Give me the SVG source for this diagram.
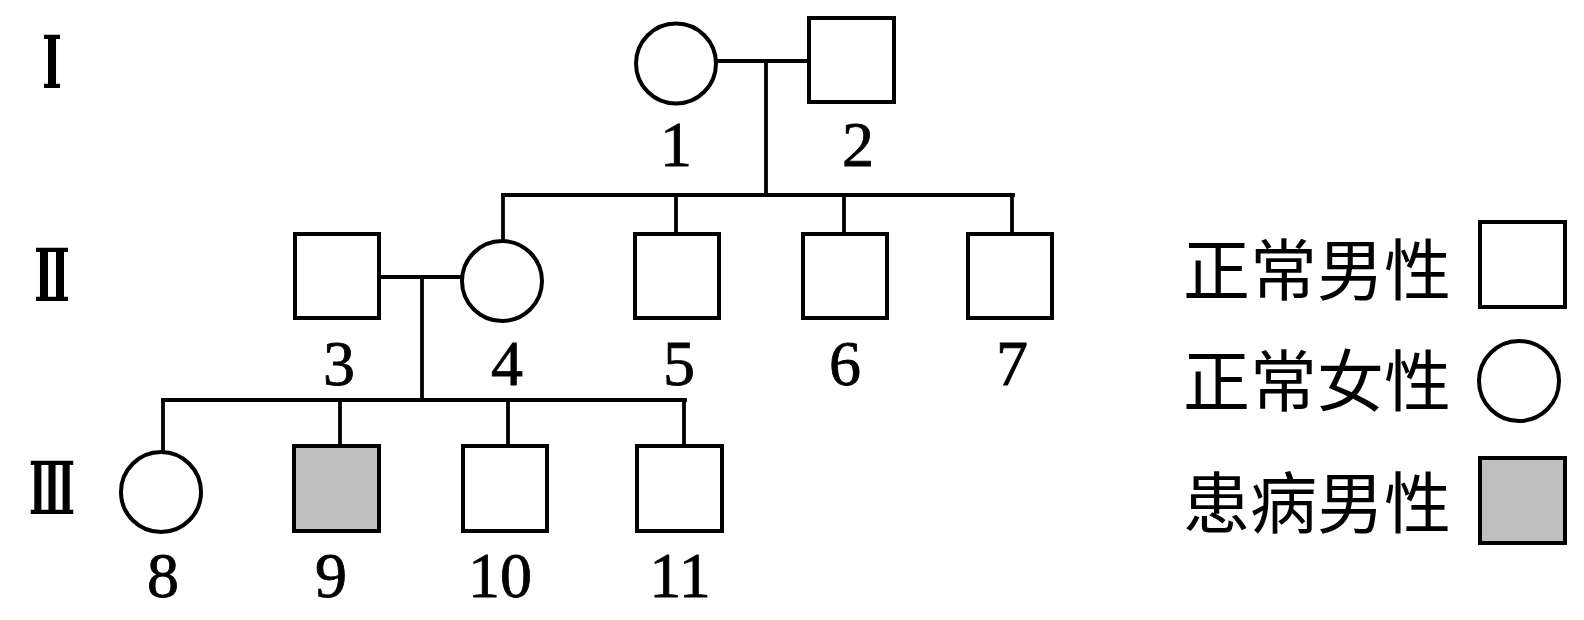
<svg xmlns="http://www.w3.org/2000/svg" width="1584" height="620" viewBox="0 0 1584 620">
<style>
.shape{fill:#fff;stroke:#000;stroke-width:4}
.ill{fill:#bfbfbf;stroke:#000;stroke-width:4}
.ln{stroke:#000;stroke-width:3.8;fill:none;stroke-linecap:square}
.num{font-family:"Liberation Serif","Times New Roman",serif;font-size:64px;fill:#000;stroke:#000;stroke-width:0.8;text-anchor:middle}
.gen{font-family:"DejaVu Serif","Liberation Serif",serif;font-size:72px;font-weight:bold;fill:#000}
.leg{font-family:"Noto Sans CJK SC","Noto Sans CJK TC",sans-serif;font-size:67px;fill:#000}
</style>
<rect width="1584" height="620" fill="#fff"/>
<g id="generations">
<text class="gen" x="42" y="88" textLength="20" lengthAdjust="spacingAndGlyphs">Ⅰ</text>
<text class="gen" x="34" y="301" textLength="36" lengthAdjust="spacingAndGlyphs">Ⅱ</text>
<text class="gen" x="29" y="514" textLength="46" lengthAdjust="spacingAndGlyphs">Ⅲ</text>
</g>
<g id="connectors">
<line class="ln" x1="716" y1="61" x2="809" y2="61"/>
<line class="ln" x1="766" y1="61" x2="766" y2="195"/>
<line class="ln" x1="503" y1="195" x2="1013" y2="195"/>
<line class="ln" x1="503" y1="195" x2="503" y2="241"/>
<line class="ln" x1="676" y1="195" x2="676" y2="234"/>
<line class="ln" x1="844" y1="195" x2="844" y2="234"/>
<line class="ln" x1="1012" y1="195" x2="1012" y2="234"/>
<line class="ln" x1="379" y1="277" x2="462" y2="277"/>
<line class="ln" x1="422" y1="277" x2="422" y2="400"/>
<line class="ln" x1="163" y1="400" x2="685" y2="400"/>
<line class="ln" x1="163" y1="400" x2="163" y2="452"/>
<line class="ln" x1="340" y1="400" x2="340" y2="446"/>
<line class="ln" x1="508" y1="400" x2="508" y2="446"/>
<line class="ln" x1="684" y1="400" x2="684" y2="446"/>
</g>
<g id="n1"><circle class="shape" cx="676" cy="63.5" r="40"/><text class="num" x="676" y="166">1</text></g>
<g id="n2"><rect class="shape" x="809" y="18" width="85" height="84"/><text class="num" x="858" y="166">2</text></g>
<g id="n3"><rect class="shape" x="295" y="234" width="84" height="84"/><text class="num" x="339" y="385">3</text></g>
<g id="n4"><circle class="shape" cx="502" cy="281" r="40"/><text class="num" x="507" y="385">4</text></g>
<g id="n5"><rect class="shape" x="635" y="234" width="84" height="84"/><text class="num" x="679" y="385">5</text></g>
<g id="n6"><rect class="shape" x="803" y="234" width="84" height="84"/><text class="num" x="845" y="385">6</text></g>
<g id="n7"><rect class="shape" x="968" y="234" width="84" height="84"/><text class="num" x="1012" y="385">7</text></g>
<g id="n8"><circle class="shape" cx="161" cy="492" r="40"/><text class="num" x="163" y="597">8</text></g>
<g id="n9"><rect class="ill" x="294" y="446" width="85" height="85"/><text class="num" x="331" y="597">9</text></g>
<g id="n10"><rect class="shape" x="463" y="446" width="84" height="85"/><text class="num" x="500" y="597">10</text></g>
<g id="n11"><rect class="shape" x="637" y="446" width="85" height="85"/><text class="num" x="680" y="597">11</text></g>
<g id="legend-male"><text class="leg" x="1183" y="295">正常男性</text><rect class="shape" x="1480" y="222" width="85" height="85"/></g>
<g id="legend-female"><text class="leg" x="1183" y="406">正常女性</text><circle class="shape" cx="1519" cy="381" r="40"/></g>
<g id="legend-ill"><text class="leg" x="1183" y="528">患病男性</text><rect class="ill" x="1480" y="458" width="85" height="85"/></g>
</svg>
